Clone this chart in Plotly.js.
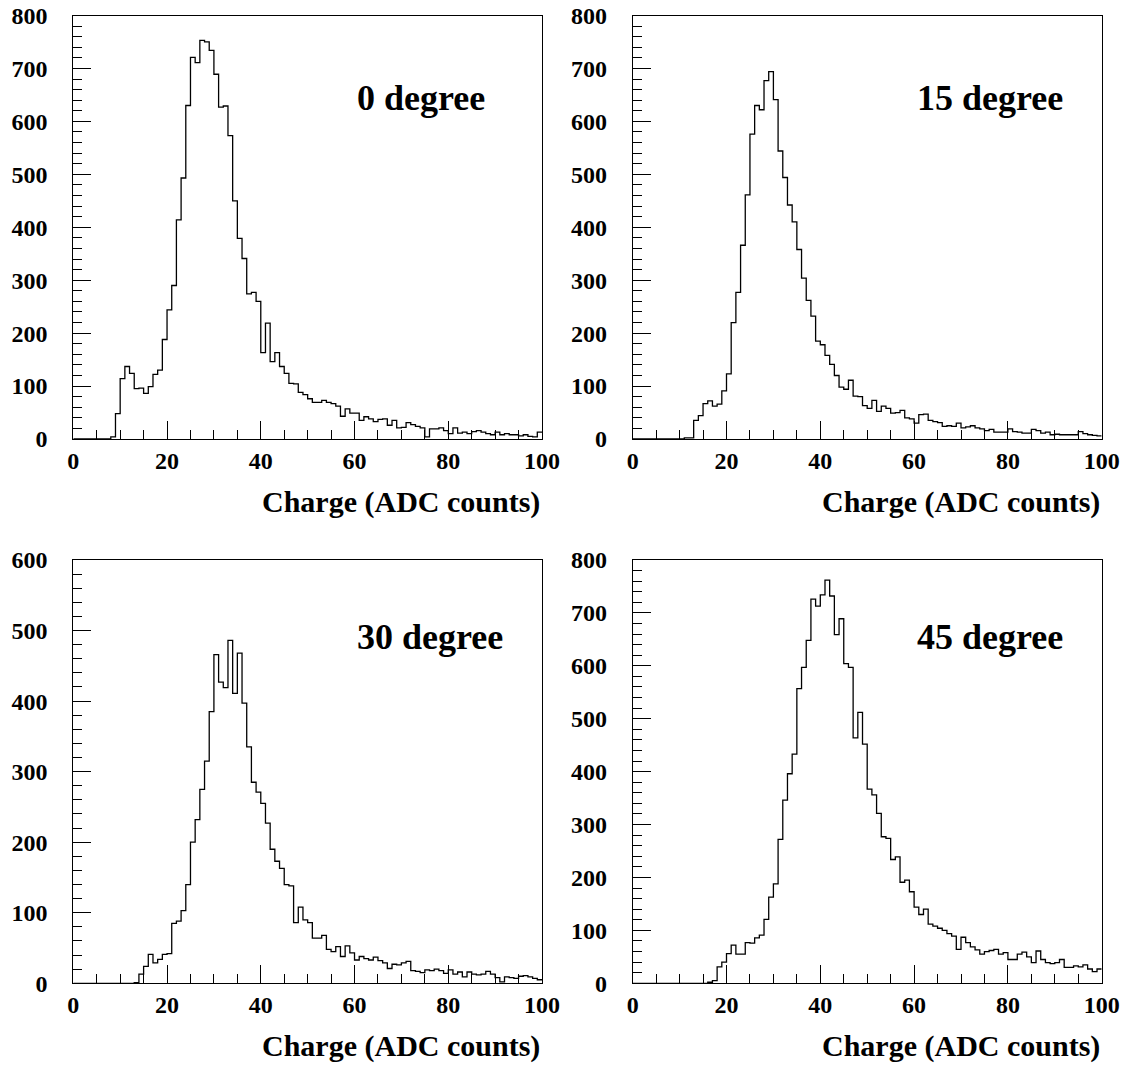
<!DOCTYPE html>
<html>
<head>
<meta charset="utf-8">
<script src="https://cdn.plot.ly/plotly-3.0.1.min.js"></script>
<style>
  html, body { margin: 0; padding: 0; background: #ffffff; }
  #chart { width: 1127px; height: 1068px; }
</style>
</head>
<body>
<div id="chart"></div>
<script>
// ---- Data: counts per 1-ADC-count bin, charge 0..100 ----
const chargeMin = 0;
const chargeMax = 100;
const binWidth = 1;

const panelLabels = ["0 degree", "15 degree", "30 degree", "45 degree"];
const xTitle = "Charge (ADC counts)";

const counts0deg = [
  0, 0, 0, 0, 0, 0, 0, 0, 4, 48,
  114, 137, 124, 95, 96, 86, 99, 122, 130, 188,
  244, 290, 414, 493, 630, 721, 711, 753, 750, 734,
  689, 627, 629, 573, 450, 379, 341, 274, 277, 260,
  163, 219, 146, 163, 137, 124, 105, 104, 88, 84,
  76, 69, 69, 73, 69, 67, 62, 43, 57, 49,
  49, 35, 42, 38, 33, 37, 38, 26, 35, 21,
  22, 31, 27, 24, 21, 4, 19, 19, 21, 16,
  10, 21, 11, 13, 10, 14, 16, 13, 10, 8,
  13, 8, 10, 8, 8, 6, 8, 5, 4, 13
];

const counts15deg = [
  0, 0, 0, 0, 0, 0, 0, 0, 0, 0,
  0, 2, 2, 35, 44, 67, 72, 62, 66, 91,
  123, 220, 277, 366, 461, 576, 630, 622, 677, 694,
  641, 544, 494, 442, 410, 358, 304, 262, 232, 185,
  178, 158, 141, 120, 98, 94, 111, 81, 80, 63,
  58, 73, 52, 62, 58, 49, 50, 54, 40, 38,
  30, 46, 47, 35, 33, 31, 24, 25, 24, 30,
  21, 23, 25, 21, 19, 16, 18, 13, 13, 13,
  19, 14, 13, 11, 11, 18, 16, 11, 13, 8,
  9, 8, 8, 8, 8, 14, 10, 8, 7, 6
];

const counts30deg = [
  0, 0, 0, 0, 0, 0, 0, 0, 0, 0,
  0, 0, 0, 1, 13, 24, 41, 29, 34, 41,
  42, 85, 88, 103, 140, 200, 232, 275, 315, 385,
  466, 427, 419, 486, 411, 468, 397, 335, 285, 271,
  255, 227, 190, 173, 163, 140, 138, 86, 108, 90,
  86, 64, 64, 68, 48, 45, 52, 38, 53, 43,
  33, 38, 35, 33, 37, 32, 29, 21, 27, 26,
  29, 31, 18, 17, 15, 19, 18, 20, 18, 14,
  19, 13, 16, 9, 16, 13, 12, 13, 17, 13,
  8, 2, 9, 8, 7, 10, 11, 9, 7, 5
];

const counts45deg = [
  0, 0, 0, 0, 0, 0, 0, 0, 0, 0,
  0, 0, 0, 0, 0, 0, 2, 5, 31, 40,
  56, 72, 55, 55, 77, 76, 86, 91, 121, 163,
  188, 272, 346, 396, 433, 557, 597, 648, 726, 713,
  734, 762, 732, 659, 689, 604, 597, 464, 512, 452,
  367, 356, 321, 277, 274, 234, 239, 191, 195, 173,
  144, 130, 140, 112, 108, 104, 100, 94, 89, 64,
  87, 77, 69, 63, 55, 60, 62, 64, 55, 58,
  45, 45, 55, 59, 50, 39, 61, 45, 39, 37,
  39, 45, 30, 30, 33, 31, 35, 27, 22, 27
];

const yMax = [800, 800, 600, 800];

// ---- Build step-outline traces from the bin contents ----
function stepTrace(counts, xa, ya) {
  const edges = counts.map((_, i) => chargeMin + i * binWidth);
  edges.push(chargeMin + counts.length * binWidth);
  const ys = counts.slice();
  ys.push(counts[counts.length - 1]);
  return {
    type: 'scatter', mode: 'lines',
    x: edges, y: ys,
    xaxis: xa, yaxis: ya,
    line: { shape: 'hv', color: '#000000', width: 1.3 },
    hoverinfo: 'x+y'
  };
}

const allCounts = [counts0deg, counts15deg, counts30deg, counts45deg];
const axisIds = [['x', 'y'], ['x2', 'y2'], ['x3', 'y3'], ['x4', 'y4']];
const traces = allCounts.map((c, k) => stepTrace(c, axisIds[k][0], axisIds[k][1]));

const FONT = 'Liberation Serif, Times New Roman, serif';
const W = 1127, H = 1068;

const xDomains = [[73.3 / W, 542.0 / W], [632.7 / W, 1101.7 / W]];
const yDomains = [[1 - 439 / H, 1 - 15.5 / H], [1 - 983.3 / H, 1 - 560 / H]];

function xAxis(domain, anchor) {
  return {
    domain: domain, anchor: anchor,
    range: [chargeMin, chargeMax], fixedrange: true,
    showline: true, linecolor: '#000', linewidth: 1, mirror: true,
    showgrid: false, zeroline: false,
    ticks: 'inside', ticklen: 18, tickwidth: 1, tickcolor: '#000',
    tick0: 0, dtick: 20,
    minor: { ticks: 'inside', ticklen: 9, dtick: 5, tick0: 0, tickcolor: '#000', tickwidth: 1, showgrid: false },
    tickfont: { family: FONT, size: 24, color: '#000', weight: 'bold' },
    ticklabelstandoff: 0
  };
}
function yAxis(domain, anchor, max) {
  return {
    domain: domain, anchor: anchor,
    range: [0, max], fixedrange: true,
    showline: true, linecolor: '#000', linewidth: 1, mirror: true,
    showgrid: false, zeroline: false,
    ticks: 'inside', ticklen: 18, tickwidth: 1, tickcolor: '#000',
    tick0: 0, dtick: 100,
    minor: { ticks: 'inside', ticklen: 9, dtick: 20, tick0: 0, tickcolor: '#000', tickwidth: 1, showgrid: false },
    tickfont: { family: FONT, size: 24, color: '#000', weight: 'bold' },
    ticklabelstandoff: 20
  };
}

const layout = {
  width: W, height: H,
  margin: { l: 0, r: 0, t: 0, b: 0, pad: 0 },
  paper_bgcolor: '#ffffff', plot_bgcolor: '#ffffff',
  showlegend: false,
  xaxis: xAxis(xDomains[0], 'y'),
  yaxis: yAxis(yDomains[0], 'x', yMax[0]),
  xaxis2: xAxis(xDomains[1], 'y2'),
  yaxis2: yAxis(yDomains[0], 'x2', yMax[1]),
  xaxis3: xAxis(xDomains[0], 'y3'),
  yaxis3: yAxis(yDomains[1], 'x3', yMax[2]),
  xaxis4: xAxis(xDomains[1], 'y4'),
  yaxis4: yAxis(yDomains[1], 'x4', yMax[3]),
  annotations: []
};

const labelFont = { family: FONT, size: 36, color: '#000', weight: 'bold' };
const titleFont = { family: FONT, size: 30, color: '#000', weight: 'bold' };
const labelPos = [[355 / W, 1 - 98 / H], [915 / W, 1 - 98 / H], [355 / W, 1 - 637 / H], [915 / W, 1 - 637 / H]];
const titleY = [1 - 502 / H, 1 - 502 / H, 1 - 1046 / H, 1 - 1046 / H];
const xRefs = ['x domain', 'x2 domain', 'x3 domain', 'x4 domain'];

panelLabels.forEach((t, k) => {
  layout.annotations.push({
    text: t, xref: 'paper', yref: 'paper',
    x: labelPos[k][0], y: labelPos[k][1],
    xanchor: 'left', yanchor: 'middle',
    showarrow: false, font: labelFont
  });
  layout.annotations.push({
    text: xTitle, xref: xRefs[k], yref: 'paper',
    x: 1, y: titleY[k],
    xanchor: 'right', yanchor: 'middle',
    showarrow: false, font: titleFont
  });
});

Plotly.newPlot('chart', traces, layout, { staticPlot: true, displayModeBar: false });
</script>
</body>
</html>
